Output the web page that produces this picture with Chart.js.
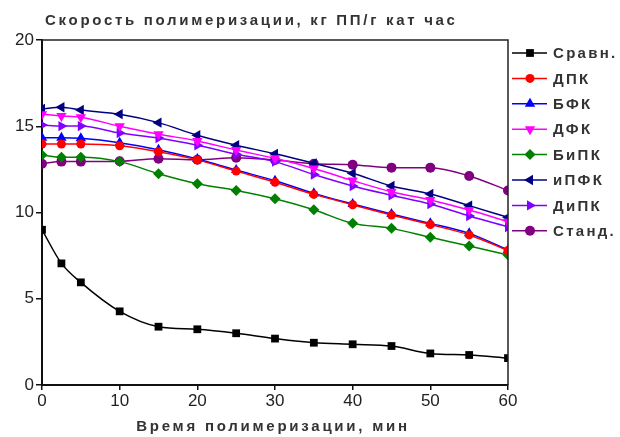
<!DOCTYPE html>
<html>
<head>
<meta charset="utf-8">
<script src="https://cdn.jsdelivr.net/npm/chart.js@4/dist/chart.umd.min.js"></script>
<style>
  html, body { margin: 0; padding: 0; background: #fff; }
  #wrap { width: 620px; height: 437px; }
</style>
</head>
<body>
<div id="wrap"><canvas id="chart" width="620" height="437"></canvas></div>
<script>
// Polymerization time, min
const times = [0, 2.5, 5, 10, 15, 20, 25, 30, 35, 40, 45, 50, 55, 60];

// Polymerization rate, kg PP / g cat * h
const sravn = [9.0, 7.05, 5.95, 4.27, 3.38, 3.23, 3.0, 2.69, 2.45, 2.36, 2.26, 1.83, 1.74, 1.56];
const dpk   = [13.97, 13.97, 13.97, 13.87, 13.52, 13.05, 12.4, 11.75, 11.05, 10.45, 9.85, 9.3, 8.7, 7.8];
const bfk   = [14.34, 14.34, 14.3, 14.05, 13.64, 13.1, 12.46, 11.84, 11.11, 10.49, 9.91, 9.37, 8.79, 7.83];
const dfk   = [15.69, 15.6, 15.52, 15.0, 14.54, 14.15, 13.62, 13.14, 12.55, 11.85, 11.2, 10.72, 10.14, 9.47];
const bipk  = [13.33, 13.2, 13.2, 12.95, 12.25, 11.67, 11.28, 10.8, 10.16, 9.37, 9.08, 8.56, 8.06, 7.54];
const ipfk  = [16.0, 16.1, 15.94, 15.7, 15.21, 14.48, 13.9, 13.4, 12.85, 12.27, 11.54, 11.07, 10.4, 9.72];
const dipk  = [15.07, 15.01, 15.01, 14.61, 14.32, 13.9, 13.38, 12.95, 12.2, 11.54, 11.0, 10.49, 9.8, 9.16];
const stand = [12.83, 12.95, 12.95, 12.97, 13.12, 13.06, 13.18, 13.04, 12.83, 12.77, 12.6, 12.6, 12.12, 11.28];

const seriesNames = ['Сравн.', 'ДПК', 'БФК', 'ДФК', 'БиПК', 'иПФК', 'ДиПК', 'Станд.'];
const seriesData = [sravn, dpk, bfk, dfk, bipk, ipfk, dipk, stand];
const seriesColors = ['#000000', '#ff0000', '#0000ff', '#ff00ff', '#008000', '#000080', '#8000ff', '#800080'];
const seriesMarks = ['rect', 'circle', 'triangle', 'triangle', 'rectRot', 'triangle', 'triangle', 'circle'];
const seriesRotation = [0, 0, 0, 180, 0, -90, 90, 0];
const seriesRadius = [5.5, 4.5, 6, 6, 5.5, 6, 6, 5];

const yTicks = [0, 5, 10, 15, 20];
const xTicks = [0, 10, 20, 30, 40, 50, 60];

const chartTitle = 'Скорость полимеризации, кг ПП/г кат час';
const xTitle = 'Время полимеризации, мин';

const FONT = '"Liberation Sans", Arial, sans-serif';

const datasets = seriesNames.map((name, i) => ({
    label: name,
    data: times.map((t, j) => ({ x: t, y: seriesData[i][j] })),
    borderColor: seriesColors[i],
    backgroundColor: seriesColors[i],
    borderWidth: 1.5,
    pointStyle: seriesMarks[i],
    pointRotation: seriesRotation[i],
    pointRadius: seriesRadius[i],
    pointBorderWidth: 0,
    cubicInterpolationMode: 'monotone',
    fill: false
}));

// Title, axis caption, frame and legend with line + marker samples
const decorations = {
    id: 'decorations',
    afterDraw(chart) {
        const ctx = chart.ctx;
        const area = chart.chartArea;
        ctx.save();

        // top and right edges of the frame
        ctx.strokeStyle = '#222';
        ctx.lineWidth = 1.5;
        ctx.beginPath();
        ctx.moveTo(area.left, area.top);
        ctx.lineTo(area.right, area.top);
        ctx.lineTo(area.right, area.bottom);
        ctx.stroke();

        ctx.fillStyle = '#333';
        ctx.textBaseline = 'middle';
        ctx.font = 'bold 15px ' + FONT;

        ctx.letterSpacing = '2.7px';
        ctx.textAlign = 'left';
        ctx.fillText(chartTitle, 45, 21);

        ctx.letterSpacing = '2.75px';
        ctx.textAlign = 'center';
        ctx.fillText(xTitle, 273, 427);

        // legend
        ctx.letterSpacing = '2.3px';
        ctx.textAlign = 'left';
        chart.data.datasets.forEach((ds, i) => {
            const y = 53 + i * 25.4;
            ctx.strokeStyle = ds.borderColor;
            ctx.lineWidth = 1.5;
            ctx.beginPath();
            ctx.moveTo(512, y);
            ctx.lineTo(547, y);
            ctx.stroke();
            ctx.fillStyle = ds.backgroundColor;
            Chart.helpers.drawPoint(ctx, {
                pointStyle: ds.pointStyle,
                rotation: ds.pointRotation,
                radius: ds.pointRadius,
                borderWidth: 0
            }, 530, y);
            ctx.fillStyle = '#333';
            ctx.fillText(ds.label, 553, y + 1);
        });
        ctx.restore();
    }
};

new Chart(document.getElementById('chart'), {
    type: 'line',
    data: { datasets },
    options: {
        responsive: false,
        animation: false,
        layout: { padding: { top: 40, right: 112, left: 0, bottom: 0 } },
        plugins: {
            legend: { display: false },
            tooltip: { enabled: false }
        },
        scales: {
            x: {
                type: 'linear',
                min: 0,
                max: 60,
                afterBuildTicks: scale => { scale.ticks = xTicks.map(v => ({ value: v })); },
                afterFit: scale => { scale.height = 52; },
                grid: {
                    display: true,
                    drawOnChartArea: false,
                    drawTicks: true,
                    tickLength: 5,
                    color: '#111',
                    lineWidth: 1.5
                },
                border: { display: true, color: '#111', width: 2 },
                ticks: {
                    padding: 1,
                    color: '#222',
                    font: { family: FONT, size: 17 }
                }
            },
            y: {
                min: 0,
                max: 20,
                afterBuildTicks: scale => { scale.ticks = yTicks.map(v => ({ value: v })); },
                afterFit: scale => { scale.width = 42; },
                grid: {
                    display: true,
                    drawOnChartArea: false,
                    drawTicks: true,
                    tickLength: 6,
                    color: '#111',
                    lineWidth: 1.5
                },
                border: { display: true, color: '#111', width: 2 },
                ticks: {
                    padding: 2,
                    color: '#222',
                    font: { family: FONT, size: 17 }
                }
            }
        }
    },
    plugins: [decorations]
});
</script>
</body>
</html>
